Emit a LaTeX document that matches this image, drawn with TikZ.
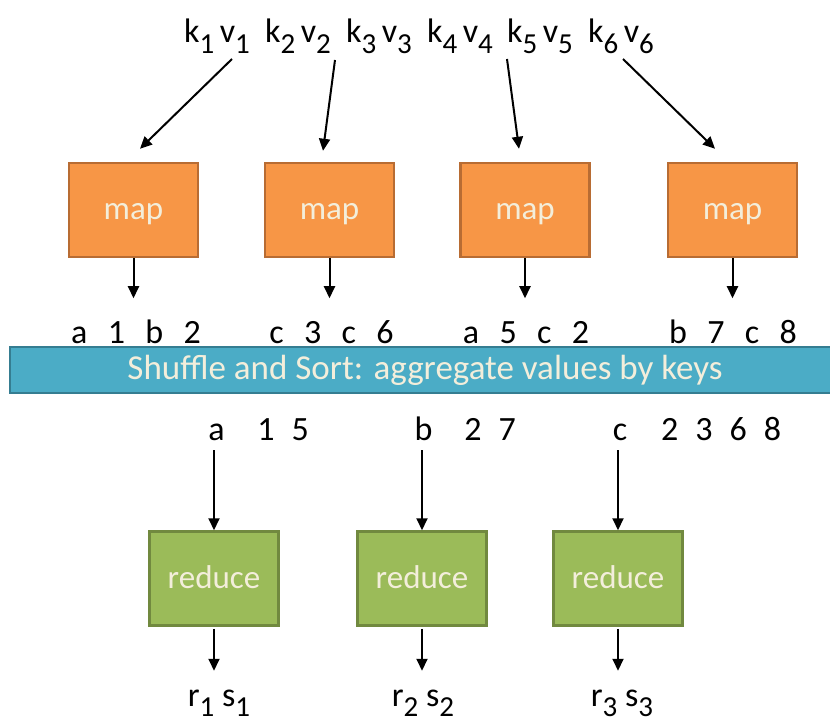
\documentclass[tikz,border=0pt]{standalone}
\usepackage{fontspec}
\setmainfont{Carlito}
\usepackage{xcolor}
\usetikzlibrary{arrows.meta}
\usetikzlibrary{calc}
\definecolor{maporange}{HTML}{F79646}
\definecolor{mapborder}{HTML}{B86C33}
\definecolor{reducegreen}{HTML}{9BBB59}
\definecolor{reduceborder}{HTML}{71893F}
\definecolor{shuffleblue}{HTML}{4BACC6}
\definecolor{shuffleborder}{HTML}{357D91}
\definecolor{boxtext}{HTML}{F3EEDB}
\newcommand{\lowsub}[1]{\raisebox{-0.3em}{\fontsize{29}{29}\selectfont #1}}
\newcommand{\keygap}{\hspace{0.6em}}
\newcommand{\valgap}{\hspace{0.5em}}
\tikzset{
    mapbox/.style={draw=mapborder, fill=maporange, line width=2.5pt, minimum width=129pt, minimum height=94pt, text=boxtext, font=\fontsize{33}{33}\selectfont, text height=26pt, text depth=6pt},
    reducebox/.style={mapbox, draw=reduceborder, fill=reducegreen},
    shufflebar/.style={draw=shuffleborder, fill=shuffleblue, line width=2.5pt, minimum width=830pt, minimum height=46pt, text=boxtext, font=\fontsize{35}{35}\selectfont, text height=24pt, text depth=6pt},
    pairlabel/.style={anchor=base, inner sep=0pt, font=\fontsize{34}{34}\selectfont},
    arr/.style={-{Triangle[length=12pt,width=11pt]}, line width=2pt}
}

\begin{document}
\begin{tikzpicture}[x=1pt,y=-1pt]
        \useasboundingbox (0,0) rectangle (830,727);
        \node[pairlabel] (kv1) at (217,43) {k\lowsub{1}\,v\lowsub{1}};
        \node[pairlabel] (kv2) at (298,43) {k\lowsub{2}\,v\lowsub{2}};
        \node[pairlabel] (kv3) at (379,43) {k\lowsub{3}\,v\lowsub{3}};
        \node[pairlabel] (kv4) at (460,43) {k\lowsub{4}\,v\lowsub{4}};
        \node[pairlabel] (kv5) at (540,43) {k\lowsub{5}\,v\lowsub{5}};
        \node[pairlabel] (kv6) at (621,43) {k\lowsub{6}\,v\lowsub{6}};
        \node[mapbox] (map1) at (133.5,210) {map};
        \node[mapbox] (map2) at (329.5,210) {map};
        \node[mapbox] (map3) at (525,210) {map};
        \node[mapbox] (map4) at (732.5,210) {map};
        \draw[arr] ($(kv1.base)+(15,16)$) -- ($(map1.north)+(6.5,-13)$);
        \draw[arr] ($(kv2.base)+(37,17)$) -- ($(map2.north)+(-6.5,-11)$);
        \draw[arr] ($(kv5.base)+(-33,16)$) -- ($(map3.north)+(-6,-13)$);
        \draw[arr] ($(kv6.base)+(2,16)$) -- ($(map4.north)+(-17.5,-13)$);
        \node[pairlabel] (out1) at (136,343) {a\keygap 1\keygap b\keygap 2};
        \node[pairlabel] (out2) at (331.5,343) {c\keygap 3\keygap c\keygap 6};
        \node[pairlabel] (out3) at (526,343) {a\keygap 5\keygap c\keygap 2};
        \node[pairlabel] (out4) at (733,343) {b\keygap 7\keygap c\keygap 8};
        \coordinate (maptip1) at ($(map1.south)+(0,40)$);
        \coordinate (maptip2) at ($(map2.south)+(0,40)$);
        \coordinate (maptip3) at ($(map3.south)+(0,40)$);
        \coordinate (maptip4) at ($(map4.south)+(0,40)$);
        \draw[arr] (map1.south) -- (maptip1);
        \draw[arr] (map2.south) -- (maptip2);
        \draw[arr] (map3.south) -- (maptip3);
        \draw[arr] (map4.south) -- (maptip4);
        \node[shufflebar] (shuffle) at (425,370) {Shuffle and Sort: aggregate values by keys};
        \node[pairlabel] (keya) at (216.5,440) {a};
        \node[pairlabel] (vala) at (283,440) {1\valgap 5};
        \node[pairlabel] (keyb) at (423.5,440) {b};
        \node[pairlabel] (valb) at (490,440) {2\valgap 7};
        \node[pairlabel] (keyc) at (620,440) {c};
        \node[pairlabel] (valc) at (721,440) {2\valgap 3\valgap 6\valgap 8};
        \node[reducebox] (red1) at (214,578.5) {reduce};
        \node[reducebox] (red2) at (422,578.5) {reduce};
        \node[reducebox] (red3) at (618,578.5) {reduce};
        \draw[arr, shorten <=10pt] (red1.north |- keya.south) -- (red1.north);
        \draw[arr, shorten <=10pt] (red2.north |- keyb.south) -- (red2.north);
        \draw[arr, shorten <=10pt] (red3.north |- keyc.south) -- (red3.north);
        \coordinate (redtip1) at ($(red1.south)+(0,44)$);
        \coordinate (redtip2) at ($(red2.south)+(0,44)$);
        \coordinate (redtip3) at ($(red3.south)+(0,44)$);
        \draw[arr, shorten <=2pt] (red1.south) -- (redtip1);
        \draw[arr, shorten <=2pt] (red2.south) -- (redtip2);
        \draw[arr, shorten <=2pt] (red3.south) -- (redtip3);
        \node[pairlabel] (res1) at (219,706) {r\lowsub{1} s\lowsub{1}};
        \node[pairlabel] (res2) at (423,706) {r\lowsub{2} s\lowsub{2}};
        \node[pairlabel] (res3) at (622,706) {r\lowsub{3} s\lowsub{3}};
    \end{tikzpicture}
\end{document}
